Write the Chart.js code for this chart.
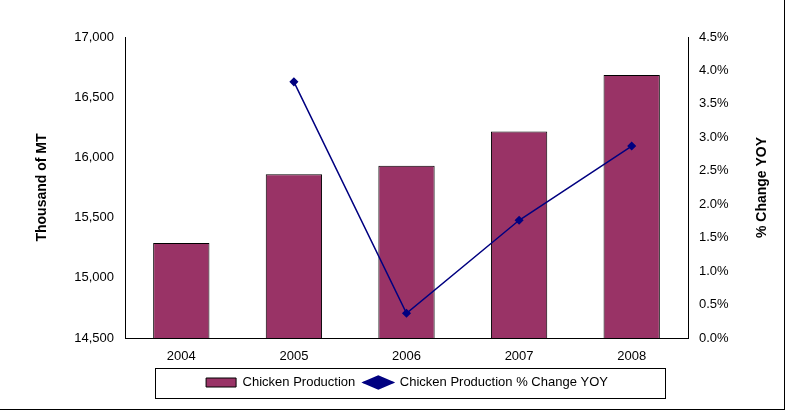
<!DOCTYPE html>
<html>
<head>
<meta charset="UTF-8">
<script src="https://cdn.jsdelivr.net/npm/chart.js"></script>
<style>
  * { margin: 0; padding: 0; }
  body { background: #fff; width: 786px; height: 412px; overflow: hidden; }
  #wrap { position: absolute; left: 0; top: 0; width: 784px; height: 409px; border: 1px solid #000; border-left: none; border-top: none; }
</style>
</head>
<body>
<div id="wrap"><canvas id="c" width="784" height="409"></canvas></div>
<script>
const years = ['2004', '2005', '2006', '2007', '2008'];
const production = [15290, 15860, 15930, 16215, 16685];
const pctChange = [null, 3.83, 0.37, 1.76, 2.87];

// box around the legend, line through the diamond marker, right axis title read bottom-to-top
const extras = {
  id: 'extras',
  afterDraw(chart) {
    const l = chart.legend, ctx = chart.ctx, a = chart.chartArea;
    ctx.save();
    ctx.strokeStyle = '#000';
    ctx.lineWidth = 1;
    ctx.strokeRect(155.5, l.top + 0.5, 510, l.height - 1);
    const hb = l.legendHitBoxes[1];
    if (hb) {
      ctx.strokeStyle = '#000080';
      ctx.lineWidth = 1.5;
      ctx.beginPath();
      ctx.moveTo(hb.left, hb.top + hb.height / 2);
      ctx.lineTo(hb.left + 30, hb.top + hb.height / 2);
      ctx.stroke();
    }
    ctx.translate(762, (a.top + a.bottom) / 2);
    ctx.rotate(-Math.PI / 2);
    ctx.fillStyle = '#000';
    ctx.font = 'bold 14px "Liberation Sans"';
    ctx.textAlign = 'center';
    ctx.textBaseline = 'middle';
    ctx.fillText('% Change YOY', 0, 0);
    ctx.restore();
  }
};

new Chart(document.getElementById('c'), {
  data: {
    labels: years,
    datasets: [
      {
        type: 'bar',
        label: 'Chicken Production',
        data: production,
        backgroundColor: '#993366',
        borderColor: '#000',
        borderWidth: 1,
        yAxisID: 'y',
        barPercentage: 0.5,
        categoryPercentage: 1,
        order: 2
      },
      {
        type: 'line',
        label: 'Chicken Production % Change YOY',
        data: pctChange,
        borderColor: '#000080',
        backgroundColor: '#000080',
        borderWidth: 1.5,
        pointStyle: 'rectRot',
        pointRadius: 3.5,
        yAxisID: 'y1',
        order: 1
      }
    ]
  },
  plugins: [extras],
  options: {
    responsive: false,
    animation: false,
    layout: { padding: { top: 37, left: 30, right: 0, bottom: 10 } },
    plugins: {
      legend: {
        position: 'bottom',
        labels: {
          font: { family: 'Liberation Sans', size: 13 }, color: '#000', padding: 8,
          usePointStyle: true, pointStyleWidth: 30, boxHeight: 9,
          sort: (a, b) => a.datasetIndex - b.datasetIndex,
          generateLabels(chart) {
            const items = Chart.defaults.plugins.legend.labels.generateLabels(chart);
            items.forEach(it => {
              if (it.datasetIndex === 0) { it.pointStyle = 'rect'; it.strokeStyle = '#000'; it.lineWidth = 1; }
              else { it.pointStyle = 'rectRot'; }
            });
            return items;
          }
        }
      },
      tooltip: { enabled: false }
    },
    scales: {
      x: {
        grid: { display: false },
        border: { color: '#000' },
        ticks: { color: '#000', font: { family: 'Liberation Sans', size: 13 } },
        afterFit(s) { s.height = 30; }
      },
      y: {
        position: 'left',
        min: 14500, max: 17000,
        ticks: { stepSize: 500, color: '#000', font: { family: 'Liberation Sans', size: 13 },
          callback: v => v.toLocaleString('en-US') },
        grid: { display: false },
        border: { color: '#000' },
        title: { display: true, text: 'Thousand of MT', color: '#000', font: { family: 'Liberation Sans', size: 14, weight: 'bold' } },
        afterFit(s) { s.width = 95; }
      },
      y1: {
        position: 'right',
        min: 0, max: 4.5,
        ticks: { stepSize: 0.5, color: '#000', font: { family: 'Liberation Sans', size: 13 },
          callback: v => v.toFixed(1) + '%' },
        grid: { display: false },
        border: { color: '#000' },
        afterFit(s) { s.width = 96; }
      }
    }
  }
});
</script>
</body>
</html>
